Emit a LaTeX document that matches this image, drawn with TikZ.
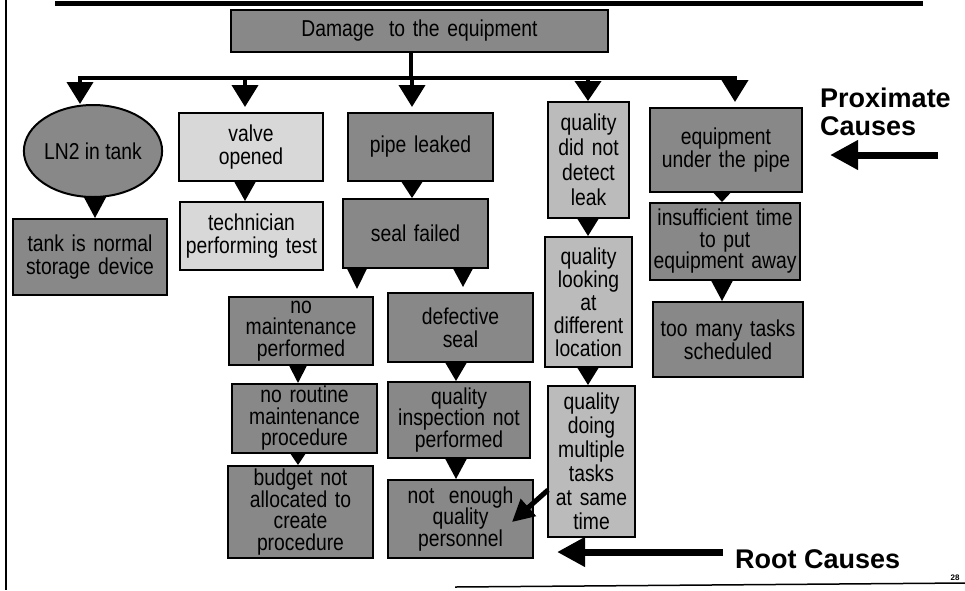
\documentclass[tikz,border=0pt]{standalone}
\usepackage{fontspec}
\setmainfont{Liberation Sans}
\newfontfamily\boxfont[FakeStretch=0.84]{Liberation Sans}
\usetikzlibrary{arrows.meta,shapes.geometric}
\definecolor{dk}{HTML}{888888}
\definecolor{lt}{HTML}{D8D8D8}
\definecolor{md}{HTML}{BBBBBB}
\begin{document}
\begin{tikzpicture}[x=1pt,y=-1pt,
  bx/.style n args={3}{draw, line width=2pt, fill=#1, align=center, inner sep=0pt,
     text width=#2, minimum width=#2, minimum height=#3, font=\boxfont\fontsize{23}{21.5}\selectfont},
  drop/.style={line width=4pt, -{Triangle[width=26pt,length=22pt]}},
  con/.style={line width=2pt, -{Triangle[width=23pt,length=#1]}},
  big/.style={line width=7pt, -{Triangle[width=28pt,length=28pt]}},
  lbl/.style={font=\fontsize{27}{28}\selectfont\bfseries, inner sep=0pt, align=left}]
\useasboundingbox (0,0) rectangle (965,590);
\fill[white] (0,0) rectangle (965,590);
% frame lines
\draw[line width=2pt] (6,0) -- (6,590);
\draw[line width=5pt] (55,3) -- (923,3);
\draw[line width=1.5pt] (455,587) -- (965,583);
% nodes
\node[bx={dk}{377pt}{42pt}] (title) at (419.5,31) {Damage\hspace{0.3em} to the equipment};
\node[draw, line width=2pt, fill=dk, ellipse, inner sep=0pt, minimum width=126pt, minimum height=92pt,
      font=\boxfont\fontsize{23}{23}\selectfont] (ln2) at (93,151) {LN2 in tank};
\node[bx={dk}{154pt}{76pt}, font=\boxfont\fontsize{23}{23}\selectfont] (tank) at (90,257) {tank is normal\\storage device};
\node[bx={lt}{144pt}{68pt}, font=\boxfont\fontsize{23}{23}\selectfont] (valve) at (251,147) {valve\\opened};
\node[bx={lt}{143pt}{68pt}, font=\boxfont\fontsize{23}{23}\selectfont] (tech) at (251.5,236) {technician\\performing test};
\node[bx={dk}{145pt}{68pt}] (pipe) at (420.5,147) {pipe leaked};
\node[bx={dk}{145pt}{69pt}] (seal) at (415.5,233.5) {seal failed};
\node[bx={dk}{144pt}{68pt}] (nomaint) at (301,331) {no\\maintenance\\performed};
\node[bx={dk}{145pt}{69pt}, font=\boxfont\fontsize{23}{23}\selectfont] (defective) at (460.5,327.5) {defective\\seal};
\node[bx={dk}{145pt}{69pt}] (noroutine) at (304.5,418.5) {no routine\\maintenance\\procedure};
\node[bx={dk}{145pt}{92pt}] (budget) at (300.5,512) {budget not\\allocated to\\create\\procedure};
\node[bx={dk}{142pt}{76pt}] (qinsp) at (459,420) {quality\\inspection not\\performed};
\node[bx={dk}{145pt}{78pt}] (notenough) at (460.5,519) {not\hspace{0.3em} enough\\quality\\personnel};
\node[bx={md}{81pt}{116pt}, font=\boxfont\fontsize{23}{25}\selectfont] (qdid) at (588.5,160) {quality\\did not\\detect\\leak};
\node[bx={md}{87pt}{130pt}, font=\boxfont\fontsize{23}{23}\selectfont] (qlook) at (588.5,302) {quality\\looking\\at\\different\\location};
\node[bx={md}{87pt}{151pt}, font=\boxfont\fontsize{23}{24}\selectfont] (qdoing) at (591.5,461.5) {quality\\doing\\multiple\\tasks\\at same\\time};
\node[bx={dk}{152pt}{84pt}, font=\boxfont\fontsize{23}{23}\selectfont] (equip) at (726,150) {equipment\\under the pipe};
\node[bx={dk}{150pt}{77pt}] (insuff) at (725,241.5) {insufficient time\\to put\\equipment away};
\node[bx={dk}{150pt}{75pt}, font=\boxfont\fontsize{23}{23}\selectfont] (toomany) at (728,339.5) {too many tasks\\scheduled};
% labels
\node[lbl, anchor=north west] (prox) at (820,88) {Proximate\\Causes};
\node[lbl, anchor=base west] (root) at (735,568) {Root Causes};
\node[font=\fontsize{8}{9}\selectfont\bfseries, anchor=base, inner sep=0pt] (pg) at (955,580) {28};
% top bar
\coordinate (stem) at (411,78);
\coordinate (b1) at (80,78);
\coordinate (b2) at (245,78);
\coordinate (b3) at (412,78);
\coordinate (b4) at (588,78);
\coordinate (b5) at (735,78);
\draw[line width=4pt] (title.south -| stem) -- (stem);
\draw[line width=4pt, line cap=rect] (b1) -- (b5);
\draw[drop] (b1) -- (ln2.north -| b1);
\draw[drop, shorten >=5pt] (b2) -- (valve.north -| b2);
\draw[drop, shorten >=5pt] (b3) -- (pipe.north -| b3);
\draw[drop, -{Triangle[width=26pt,length=20pt]}] (b4) -- (qdid.north -| b4);
\draw[drop, shorten >=5pt] (b5) -- (equip.north -| b5);
% box to box arrows
\coordinate (xa) at (95,0);
\coordinate (xs1) at (357,0);
\coordinate (xs2) at (463,0);
\coordinate (xm) at (298,0);
\coordinate (xd) at (456,0);
\coordinate (xe) at (722,0);
\draw[con=22pt] (ln2.south -| xa) -- (tank.north -| xa);
\draw[con=21pt] (valve.south -| b2) -- (tech.north -| b2);
\draw[con=18pt] (pipe.south -| b3) -- (seal.north -| b3);
\draw[con=22pt, -{Triangle[width=21pt,length=22pt]}, shorten >=7pt] (seal.south -| xs1) -- (nomaint.north -| xs1);
\draw[con=20pt, -{Triangle[width=21pt,length=20pt]}, shorten >=5pt] (seal.south -| xs2) -- (defective.north -| xs2);
\draw[con=19pt, -{Triangle[width=19pt,length=19pt]}] (nomaint.south -| xm) -- (noroutine.north -| xm);
\draw[con=13pt, -{Triangle[width=17pt,length=13pt]}] (noroutine.south -| xm) -- (budget.north -| xm);
\draw[con=20pt] (defective.south -| xd) -- (qinsp.north -| xd);
\draw[con=22pt] (qinsp.south -| xd) -- (notenough.north -| xd);
\draw[con=19pt] (qdid.south -| b4) -- (qlook.north -| b4);
\draw[con=19pt] (qlook.south -| b4) -- (qdoing.north -| b4);
\draw[con=11pt, -{Triangle[width=20pt,length=11pt]}] (equip.south -| xe) -- (insuff.north -| xe);
\draw[con=22pt] (insuff.south -| xe) -- (toomany.north -| xe);
% diagonal arrow
\coordinate (d1) at (548,490);
\coordinate (d2) at (512,522);
\draw[line width=5pt, -{Triangle[width=22pt,length=22pt]}] (d1) -- (d2);
% cause arrows
\coordinate (pa) at (938,155);
\coordinate (pb) at (830,155);
\draw[big] (pa) -- (pb);
\coordinate (ra) at (723,552);
\coordinate (rb) at (557,552);
\draw[big] (ra) -- (rb);
\end{tikzpicture}
\end{document}
